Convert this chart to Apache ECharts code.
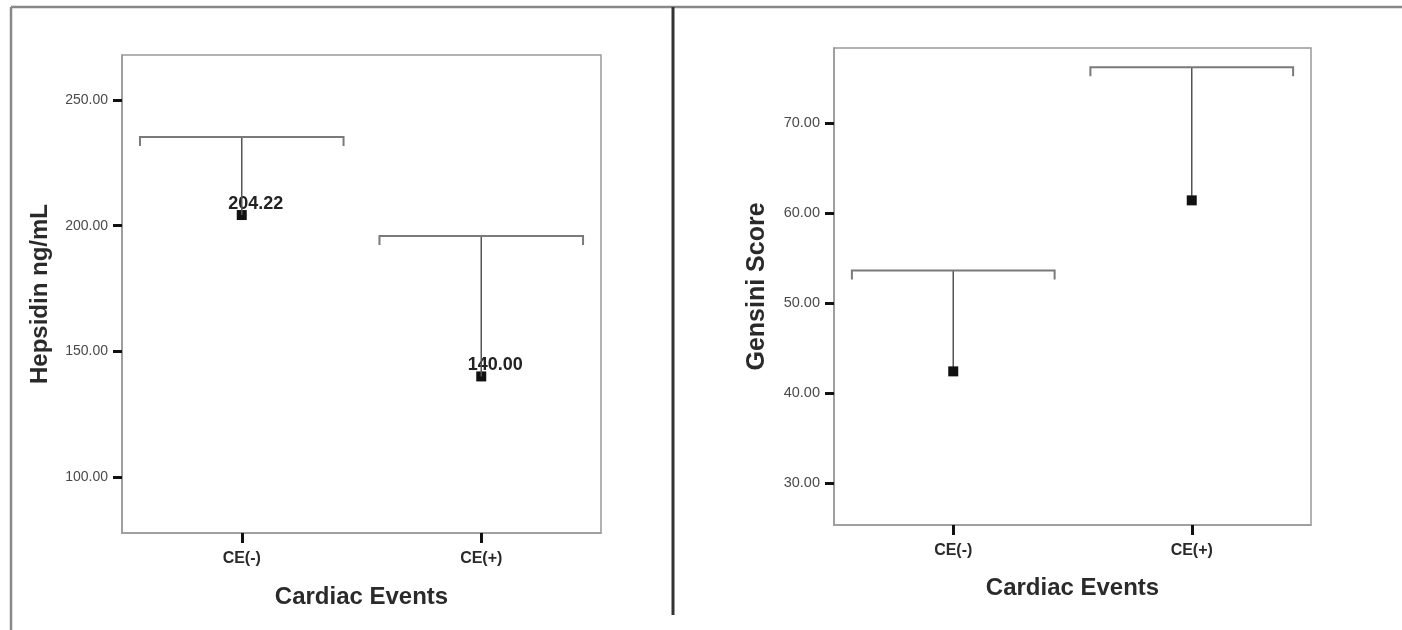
<!DOCTYPE html>
<html>
<head>
<meta charset="utf-8">
<script src="https://cdn.jsdelivr.net/npm/echarts@6/dist/echarts.min.js"></script>
<style>
html,body{margin:0;padding:0;background:#fff;}
#c{width:1402px;height:630px;}
</style>
</head>
<body>
<div id="c"></div>
<script>
// ---- data ----
const categories = ['CE(-)', 'CE(+)'];
const hepMean = [204.22, 140.00];
const hepUpper = [235.3, 195.9];
const hepTicks = [100, 150, 200, 250];
const genMean = [42.4, 61.4];
const genUpper = [53.6, 76.2];
const genTicks = [30, 40, 50, 60, 70];

const FONT = '"Liberation Sans", Arial, sans-serif';

function errItem(params, api) {
  const x = api.value(0), mean = api.value(1), up = api.value(2);
  const pM = api.coord([x, mean]);
  const pU = api.coord([x, up]);
  const hw = api.size([1, 0])[0] * 0.425;
  return {
    type: 'group',
    children: [
      {type: 'line', shape: {x1: pM[0], y1: pM[1], x2: pU[0], y2: pU[1]},
       style: {stroke: '#555', lineWidth: 1.5}},
      {type: 'polyline', shape: {points: [[pU[0]-hw, pU[1]+9], [pU[0]-hw, pU[1]], [pU[0]+hw, pU[1]], [pU[0]+hw, pU[1]+9]]},
       style: {stroke: '#7a7a7a', fill: null, lineWidth: 2}}
    ]
  };
}

function xAxisCfg(gi, nameGap) {
  return {
    type: 'category', gridIndex: gi, data: categories,
    name: 'Cardiac Events', nameLocation: 'middle', nameGap: nameGap,
    nameTextStyle: {fontFamily: FONT, fontWeight: 'bold', fontSize: 24, color: '#2a2a2a'},
    axisLine: {show: true, lineStyle: {color: '#999', width: 1.5}},
    axisTick: {show: true, alignWithLabel: true, interval: 0, length: 10, lineStyle: {color: '#111', width: 3}},
    axisLabel: {show: true, interval: 0, fontFamily: FONT, fontWeight: 'bold', fontSize: 16, color: '#2a2a2a', margin: 18},
    splitLine: {show: false}
  };
}
function yAxisCfg(gi, name, min, max, ticks, nameGap, fs, nfs) {
  return {
    type: 'value', gridIndex: gi, min: min, max: max,
    name: name, nameLocation: 'middle', nameGap: nameGap,
    nameTextStyle: {fontFamily: FONT, fontWeight: 'bold', fontSize: nfs, color: '#2a2a2a'},
    axisLine: {show: true, lineStyle: {color: '#999', width: 1.5}},
    axisTick: {show: true, length: 9, customValues: ticks, lineStyle: {color: '#111', width: 3}},
    axisLabel: {customValues: ticks, fontFamily: FONT, fontSize: fs, color: '#4a4a4a', margin: 14,
      formatter: v => Number(v).toFixed(2)},
    splitLine: {show: false}
  };
}

const chart = echarts.init(document.getElementById('c'), null, {renderer: 'canvas'});
chart.setOption({
  backgroundColor: '#fff',
  animation: false,
  grid: [
    {left: 122, top: 55, right: 801, bottom: 97, show: true, borderColor: '#999', borderWidth: 1.5},
    {left: 834, top: 48, right: 91, bottom: 105, show: true, borderColor: '#999', borderWidth: 1.5}
  ],
  xAxis: [xAxisCfg(0, 52), xAxisCfg(1, 51)],
  yAxis: [
    yAxisCfg(0, 'Hepsidin ng/mL', 77.7, 267.9, hepTicks, 70, 14, 24),
    yAxisCfg(1, 'Gensini Score', 25.33, 78.33, genTicks, 64, 14.5, 25)
  ],
  graphic: [
    {type: 'line', shape: {x1: 11, y1: 7, x2: 1402, y2: 7}, style: {stroke: '#888', lineWidth: 2.5}, z: 100},
    {type: 'line', shape: {x1: 11, y1: 7, x2: 11, y2: 630}, style: {stroke: '#888', lineWidth: 2.5}, z: 100},
    {type: 'line', shape: {x1: 673, y1: 7, x2: 673, y2: 615}, style: {stroke: '#333', lineWidth: 3}, z: 100}
  ],
  series: [
    {type: 'scatter', xAxisIndex: 0, yAxisIndex: 0, symbol: 'rect', symbolSize: 10,
     itemStyle: {color: '#111', opacity: 1}, z: 3,
     label: {show: true, position: 'inside', offset: [14, -11], fontFamily: FONT, fontWeight: 'bold', fontSize: 18, color: '#222',
       formatter: p => p.value[1].toFixed(2)},
     data: hepMean.map((v, i) => [i, v])},
    {type: 'custom', xAxisIndex: 0, yAxisIndex: 0, renderItem: errItem, z: 4,
     encode: {x: 0, y: [1, 2]},
     data: hepMean.map((v, i) => [i, v, hepUpper[i]])},
    {type: 'scatter', xAxisIndex: 1, yAxisIndex: 1, symbol: 'rect', symbolSize: 10,
     itemStyle: {color: '#111', opacity: 1}, z: 5,
     data: genMean.map((v, i) => [i, v])},
    {type: 'custom', xAxisIndex: 1, yAxisIndex: 1, renderItem: errItem, z: 4,
     encode: {x: 0, y: [1, 2]},
     data: genMean.map((v, i) => [i, v, genUpper[i]])}
  ]
});
</script>
</body>
</html>
